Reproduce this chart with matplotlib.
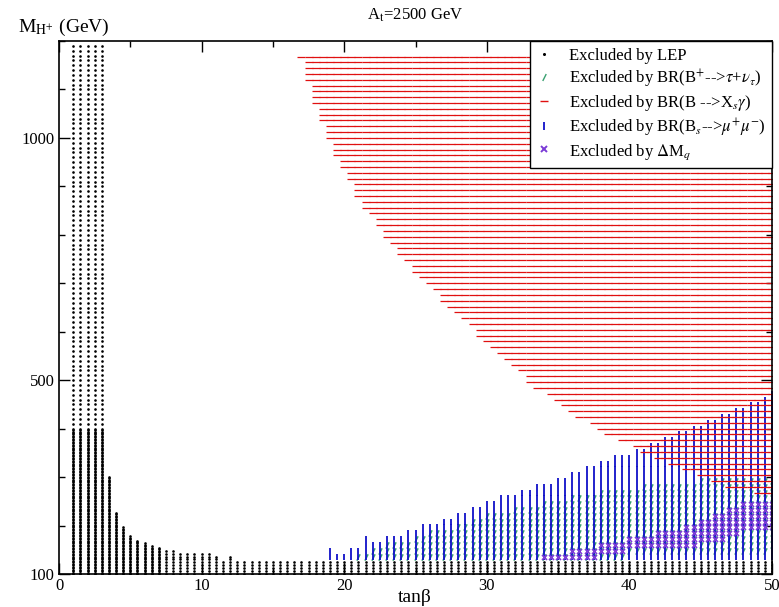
import numpy as np
import matplotlib.pyplot as plt
from matplotlib.path import Path
from matplotlib.lines import Line2D
from matplotlib.ticker import MultipleLocator

plt.rcParams['font.family'] = ['Liberation Serif', 'DejaVu Serif']
plt.rcParams['mathtext.fontset'] = 'stix'

# scan grid (tanb columns, M_H+ rows)
tanb_cols = np.arange(1.0, 50.01, 0.5)
m_rows = np.arange(100, 1170, 12)

# LEP: low tanb columns excluded up to the top, then a falling limit
lep_full_tanb = [1.0, 1.5, 2.0, 2.5, 3.0]
lep_full_solid = 400
lep_full_top = 1195
lep_tanb = [3.5, 4.0, 4.5, 5.0, 5.5, 6.0, 6.5, 7.0, 7.5, 8.0, 8.5, 9.0,
            9.5, 10.0, 10.5, 11.0, 11.5, 12.0]
lep_limit = [302, 228, 197, 180, 172, 166, 160, 156, 153, 150, 148, 146,
             145, 144, 143, 142, 130, 142]
lep_band = 128  # tanb > 12

# BR(B -> Xs gamma): excluded above this mass
red_tanb = np.arange(17.0, 50.01, 0.5)
red_min = [1168, 1120, 1075, 1035, 1000, 968,
           940, 912, 886, 862, 839, 818, 798, 780, 762, 745,
           729, 713, 698, 683, 668, 654, 640, 626, 612, 598,
           584, 570, 556, 542, 528, 515, 502, 490, 479, 468,
           458, 448, 438, 429, 420, 411, 402, 394, 386, 379,
           372, 365, 358, 351, 345, 339, 333, 327, 321, 315,
           309, 303, 297, 291, 286, 281, 278, 275, 272, 270,
           268]

# BR(Bs -> mu mu): excluded below this mass
blue_tanb = np.arange(19.0, 50.01, 0.5)
blue_max = [144, 139, 139, 153, 149, 166, 163, 160, 177, 174, 170, 185, 184,
            199, 196, 194, 208, 206, 216, 220, 228, 234, 240, 246, 250, 254,
            260, 265, 270, 277, 282, 284, 288, 292, 300, 306, 312, 318, 325,
            331, 334, 338, 345, 350, 355, 360, 366, 372, 377, 383, 390, 397,
            404, 410, 416, 422, 428, 434, 441, 448, 453, 460, 466]

# BR(B -> tau nu): band per unit of tanb
green_tanb = np.arange(21, 51)
green_lo = [128] * 15 + [130, 132, 134, 136, 138, 140, 141, 142, 143, 144,
                         145, 146, 147, 148, 150]
green_hi = [145, 150, 160, 170, 178, 186, 195, 204, 212, 220, 228, 235, 242,
            248, 254, 260, 265, 270, 274, 278, 281, 284, 287, 290, 293, 295,
            297, 299, 300, 302]

# Delta M_q: band per unit of tanb
purple_tanb = np.arange(34, 51)
purple_lo = [133, 133, 135, 135, 138, 140, 150, 150, 155, 160, 160, 165,
             170, 180, 185, 190, 190]
purple_hi = [140, 140, 152, 152, 162, 165, 180, 180, 190, 195, 205, 215,
             225, 235, 245, 250, 255]


def lep_cut(t):
    if t in lep_tanb:
        return lep_limit[lep_tanb.index(t)]
    return lep_band


# build point sets
bx, by = [], []
for t in tanb_cols:
    if t in lep_full_tanb:
        m = np.concatenate([np.arange(100, lep_full_solid, 3),
                            np.arange(lep_full_solid, lep_full_top, 10)])
    else:
        step = 3 if t <= 7 else 6
        m = np.arange(100, lep_cut(t), step)
    bx += [t] * len(m)
    by += list(m)

rx, ry = [], []
for t, lo in zip(red_tanb, red_min):
    m = m_rows[m_rows >= lo - 6]
    rx += [t] * len(m)
    ry += list(m)

ux, uy = [], []
for t, hi in zip(blue_tanb, blue_max):
    m = m_rows[(m_rows > lep_cut(t)) & (m_rows <= hi + 6)]
    ux += [t] * len(m)
    uy += list(m)

gx, gy = [], []
for t0, lo, hi in zip(green_tanb, green_lo, green_hi):
    for t in (t0, t0 + 0.5):
        if t > 50:
            continue
        m = m_rows[(m_rows >= lo) & (m_rows <= hi)]
        gx += [t] * len(m)
        gy += list(m)

px, py = [], []
for t0, lo, hi in zip(purple_tanb, purple_lo, purple_hi):
    for t in (t0, t0 + 0.5):
        if t > 50:
            continue
        m = m_rows[(m_rows >= lo) & (m_rows <= hi)]
        px += [t] * len(m)
        py += list(m)

slash = Path([(-0.5, -1), (0.5, 1)], [Path.MOVETO, Path.LINETO])

c_green = '#38a070'
c_red = '#e01010'
c_blue = '#1010c8'
c_purple = '#7b3bd6'

fig = plt.figure(figsize=(7.79, 6.07), dpi=100)
ax = fig.add_axes([59 / 779, 1 - 574 / 607, 713 / 779, 533 / 607])

ax.plot(bx, by, ls='none', marker='o', ms=1.9, mec='none', mfc='black')
ax.plot(gx, gy, ls='none', marker=slash, ms=4.6, mfc='none', mec=c_green, mew=1.1)
ax.plot(ux, uy, ls='none', marker='|', ms=4.8, mec=c_blue, mew=1.3)
ax.plot(rx, ry, ls='none', marker='_', ms=5.6, mec=c_red, mew=0.9)
ax.plot(px, py, ls='none', marker='x', ms=3.6, mec=c_purple, mew=1.2)

ax.set_xlim(0, 50)
ax.set_ylim(100, 1200)
ax.set_xticks([0, 10, 20, 30, 40, 50])
ax.xaxis.set_minor_locator(MultipleLocator(5))
ax.set_yticks([100, 500, 1000])
ax.yaxis.set_minor_locator(MultipleLocator(100))
ax.tick_params(which='both', direction='in', top=True, right=True,
               labelsize=12, width=1)
ax.tick_params(which='major', length=8, pad=3)
ax.tick_params(which='minor', length=4)
for s in ax.spines.values():
    s.set_linewidth(1.2)

handles = [
    Line2D([], [], ls='none', marker='o', ms=2.2, mec='none', mfc='black'),
    Line2D([], [], ls='none', marker=slash, ms=5, mfc='none', mec=c_green, mew=1),
    Line2D([], [], ls='none', marker='_', ms=6, mec=c_red, mew=1),
    Line2D([], [], ls='none', marker='|', ms=6, mec=c_blue, mew=1.3),
    Line2D([], [], ls='none', marker='x', ms=4, mec=c_purple, mew=1.4),
]
labels = [
    'Excluded by LEP',
    r'Excluded by BR(B$^{+}$-->$\tau$+$\nu_{\tau}$)',
    r'Excluded by BR(B -->X$_{s}\gamma$)',
    r'Excluded by BR(B$_{s}$-->$\mu^{+}\mu^{-}$)',
    r'Excluded by $\Delta$M$_{q}$',
]
leg = ax.legend(handles, labels, loc='upper right', borderaxespad=0,
                fontsize=12, frameon=True, fancybox=False, framealpha=1,
                edgecolor='black', handlelength=0.8, handletextpad=1.1,
                labelspacing=0.2, borderpad=0.4)
leg.get_frame().set_linewidth(1.0)

fig.text(415 / 779, 1 - 15 / 607, r'A$_{\mathrm{t}}$=2500 GeV', ha='center',
         va='center', fontsize=12)
fig.text(18 / 779, 1 - 27 / 607, r'M$_{\mathrm{H^{+}}}$ (GeV)', ha='left',
         va='center', fontsize=14)
fig.text(415 / 779, 1 - 597 / 607, 'tanβ', ha='center', va='center',
         fontsize=14)

fig.savefig('out.png', dpi=100)
